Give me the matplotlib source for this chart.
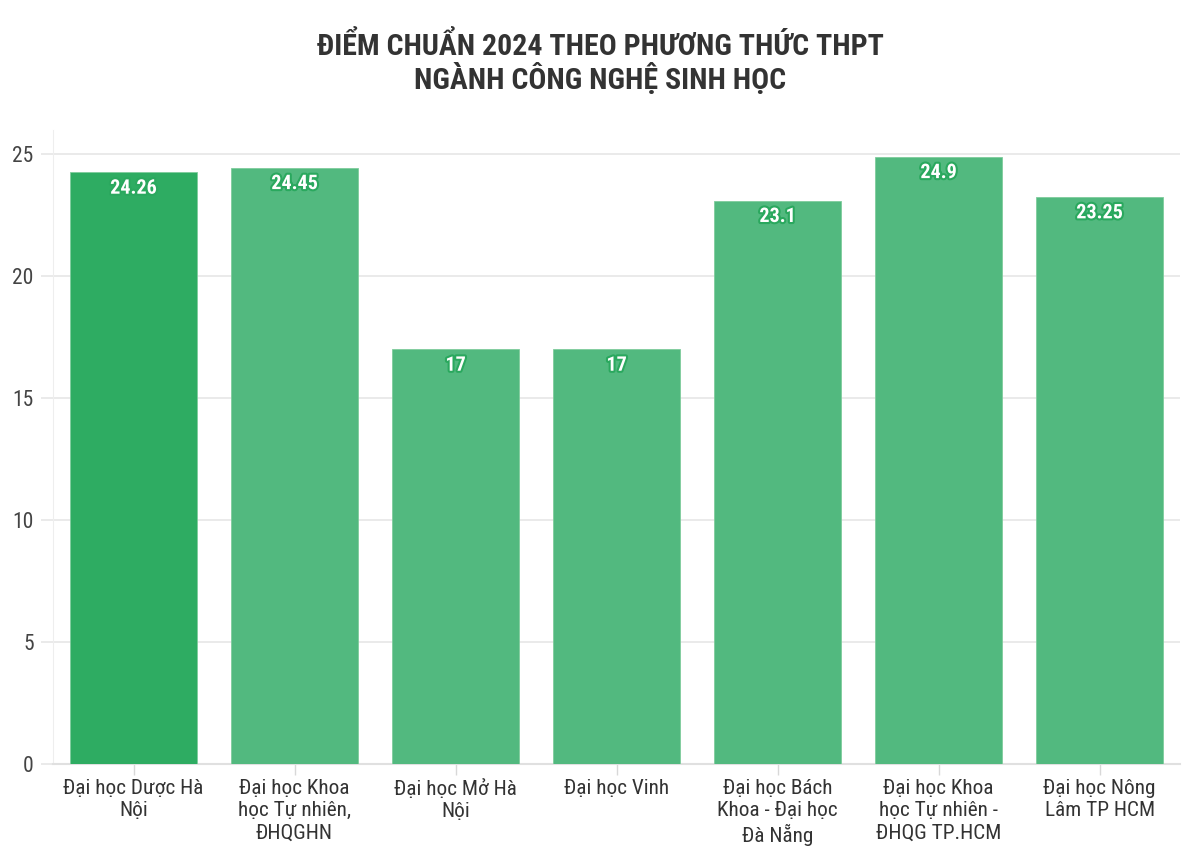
import numpy as np
from matplotlib import pyplot as plt
from matplotlib import patheffects as pe

truong = ['Đại học Dược Hà\nNội', 'Đại học Khoa\nhọc Tự nhiên,\nĐHQGHN', 'Đại học Mở Hà\nNội',
          'Đại học Vinh', 'Đại học Bách\nKhoa - Đại học\nĐà Nẵng', 'Đại học Khoa\nhọc Tự nhiên -\nĐHQG TP.HCM',
          'Đại học Nông\nLâm TP HCM']
diem = [24.26, 24.45, 17, 17, 23.1, 24.9, 23.25]
nhan = ['24.26', '24.45', '17', '17', '23.1', '24.9', '23.25']
yticks = [0, 5, 10, 15, 20, 25]

plt.rcParams['font.family'] = ['Roboto Condensed', 'Roboto', 'DejaVu Sans']

fig = plt.figure(figsize=(12, 8.64), dpi=100)
ax = fig.add_axes([0.0442, 0.1157, 0.9392, 0.7338])

x = np.arange(len(diem))
mau = ['#2eac62'] + ['#52b97f'] * (len(diem) - 1)
bars = ax.bar(x, diem, width=0.79, color=mau, edgecolor='#7fcc9c', linewidth=0.6, zorder=3)

for xi, v, t in zip(x, diem, nhan):
    ax.annotate(t, (xi, v), xytext=(0, -4.5), textcoords='offset points', ha='center', va='top',
                fontsize=14.5, fontweight='bold', color='white', zorder=4,
                path_effects=[pe.withStroke(linewidth=3, foreground='#2aa85e')])

ax.set_xlim(-0.5, len(diem) - 0.5)
ax.set_ylim(0, 26)
ax.set_yticks(yticks)
ax.set_xticks(x)
ax.set_xticklabels(truong, fontsize=15.3, color='#333333', linespacing=1.2)
ax.tick_params(axis='y', length=9, color='#e6e6e6', width=1.2, labelsize=15.5, labelcolor='#444444', pad=5)
ax.tick_params(axis='x', length=8, color='#d8d8d8', width=1, pad=3)
ax.grid(axis='y', color='#e6e6e6', linewidth=1.2, zorder=0)
for s in ['top', 'right']:
    ax.spines[s].set_visible(False)
ax.spines['left'].set_color('#eeeeee')
ax.spines['bottom'].set_color('#e0e0e0')
ax.spines['bottom'].set_linewidth(1.5)

fig.text(0.5, 0.927, 'ĐIỂM CHUẨN 2024 THEO PHƯƠNG THỨC THPT\nNGÀNH CÔNG NGHỆ SINH HỌC',
         ha='center', va='center', fontsize=21.5, fontweight='bold', color='#333333', linespacing=1.08)

fig.savefig('out.png', dpi=100)
